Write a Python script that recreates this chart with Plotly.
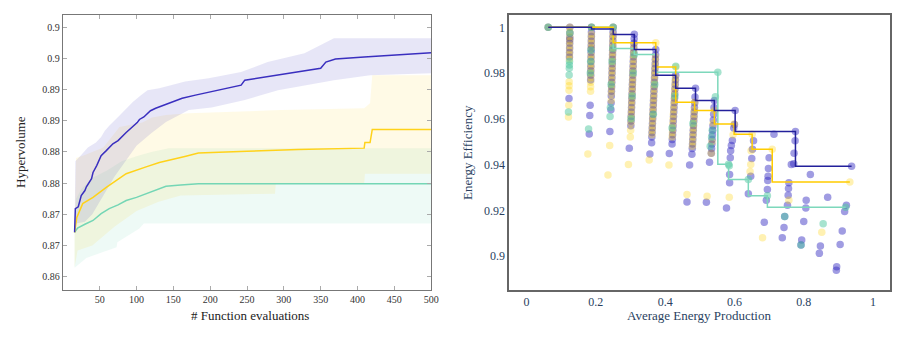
import plotly.graph_objects as go

# ---- left panel: hypervolume vs number of function evaluations ----
blue_x = [16, 17, 21, 25, 30, 32, 39, 41, 46, 52, 59, 68, 75, 86, 101, 104, 110, 119, 126, 144,
          162, 180, 198, 242, 247, 274, 328, 350, 357, 370, 409, 453, 500]
blue_y = [0.8721, 0.8759, 0.8762, 0.878, 0.8788, 0.8794, 0.8807, 0.8817, 0.8828, 0.8844, 0.8852,
          0.8863, 0.8868, 0.8881, 0.8897, 0.8902, 0.8906, 0.8916, 0.892, 0.8928, 0.8936, 0.8941,
          0.8946, 0.8957, 0.8965, 0.897, 0.8981, 0.8984, 0.8994, 0.8999, 0.9002, 0.9005, 0.9009]
blue_up_x = [16, 17, 25, 34, 45, 52, 57, 63, 75, 84, 95, 106, 115, 131, 148, 166, 198, 242, 278, 328, 368, 500]
blue_up_y = [0.8721, 0.8835, 0.8845, 0.8857, 0.8865, 0.8874, 0.8884, 0.8892, 0.8906, 0.8917, 0.893,
             0.8941, 0.8949, 0.8952, 0.8957, 0.8963, 0.8968, 0.8978, 0.8994, 0.9008, 0.9032, 0.9032]
blue_lo_x = [16, 18, 30, 40, 50, 60, 70, 85, 100, 120, 140, 160, 171, 202, 247, 292, 328, 368, 417, 500]
blue_lo_y = [0.8721, 0.8735, 0.8738, 0.875, 0.877, 0.879, 0.881, 0.8835, 0.886, 0.888, 0.8898,
             0.891, 0.8917, 0.8921, 0.8933, 0.8949, 0.8957, 0.8965, 0.8973, 0.8976]

yel_x = [16, 19, 27, 41, 59, 86, 113, 131, 167, 184, 250, 319, 409, 410, 417, 420, 500]
yel_y = [0.8721, 0.8745, 0.8767, 0.8777, 0.8793, 0.8815, 0.8826, 0.8833, 0.8843, 0.8848, 0.8851,
         0.8854, 0.8856, 0.8865, 0.8865, 0.8886, 0.8886]
yel_up_x = [16, 18, 30, 55, 77, 108, 121, 140, 171, 296, 409, 417, 420, 500]
yel_up_y = [0.8721, 0.884, 0.8845, 0.8857, 0.889, 0.8897, 0.8905, 0.8909, 0.8912, 0.8917, 0.892,
            0.8928, 0.8973, 0.8973]
yel_lo_x = [16, 20, 40, 70, 100, 130, 160, 288, 289, 409, 410, 500]
yel_lo_y = [0.8665, 0.8692, 0.87, 0.873, 0.8755, 0.877, 0.878, 0.8783, 0.8799, 0.8799, 0.8815, 0.8815]

teal_x = [16, 20, 30, 41, 52, 63, 75, 86, 100, 113, 125, 140, 160, 184, 500]
teal_y = [0.8721, 0.8728, 0.8734, 0.874, 0.8751, 0.8759, 0.8765, 0.8772, 0.8777, 0.8783, 0.8789,
          0.8795, 0.8797, 0.8799, 0.8799]
teal_up_x = [16, 18, 25, 40, 60, 80, 100, 120, 144, 500]
teal_up_y = [0.8721, 0.8775, 0.879, 0.8808, 0.882, 0.8835, 0.8843, 0.885, 0.8856, 0.8856]
teal_lo_x = [16, 32, 50, 73, 74, 86, 104, 110, 500]
teal_lo_y = [0.8664, 0.868, 0.8687, 0.8697, 0.8705, 0.8713, 0.8727, 0.8735, 0.8735]

hv_tickvals = [0.865, 0.87, 0.875, 0.88, 0.885, 0.89, 0.895, 0.9, 0.905]
hv_ticktext = ["0.86", "0.87", "0.87", "0.88", "0.88", "0.89", "0.89", "0.9", "0.9"]
fe_tickvals = [50, 100, 150, 200, 250, 300, 350, 400, 450, 500]

# ---- right panel: evaluated designs (x = energy production, y = efficiency) ----
blue_pts = [
    (0.0625, 1.0),
    (0.125, 1.0), (0.125, 0.9975), (0.1248, 0.9955), (0.1247, 0.9946), (0.1245, 0.993), (0.1243, 0.991),
    (0.1241, 0.989), (0.1239, 0.987), (0.1225, 0.9689),
    (0.1875, 1.0), (0.1873, 0.998), (0.1871, 0.996), (0.1869, 0.994), (0.1867, 0.992), (0.1865, 0.9905),
    (0.1863, 0.989), (0.1861, 0.987), (0.1859, 0.985), (0.1856, 0.983), (0.1854, 0.981), (0.1852, 0.979),
    (0.185, 0.977), (0.1835, 0.9659), (0.1825, 0.9615), (0.181, 0.9534),
    (0.25, 1.0), (0.2497, 0.998), (0.2494, 0.996), (0.2491, 0.994), (0.2488, 0.992), (0.2485, 0.99),
    (0.2482, 0.988), (0.2478, 0.986), (0.2475, 0.984), (0.2471, 0.982), (0.2467, 0.98), (0.2463, 0.978),
    (0.2459, 0.976), (0.2455, 0.974), (0.2451, 0.972), (0.2447, 0.97), (0.2441, 0.967), (0.2435, 0.964),
    (0.2405, 0.9545),
    (0.311, 0.997), (0.3105, 0.995), (0.31, 0.993), (0.3095, 0.991), (0.309, 0.989), (0.3085, 0.987),
    (0.308, 0.985), (0.3075, 0.983), (0.307, 0.981), (0.3065, 0.979), (0.306, 0.977), (0.3055, 0.975),
    (0.305, 0.973), (0.3045, 0.971), (0.304, 0.969), (0.3035, 0.967), (0.303, 0.965), (0.3025, 0.963),
    (0.302, 0.961), (0.3015, 0.959), (0.301, 0.957), (0.2965, 0.9471),
    (0.373, 0.9903), (0.3724, 0.988), (0.3718, 0.986), (0.3712, 0.984), (0.3706, 0.982), (0.37, 0.98),
    (0.3694, 0.978), (0.3688, 0.976), (0.3682, 0.974), (0.3676, 0.972), (0.367, 0.97), (0.3664, 0.968),
    (0.3658, 0.966), (0.3652, 0.964), (0.3646, 0.962), (0.364, 0.96), (0.3634, 0.958), (0.3628, 0.956),
    (0.3622, 0.954), (0.3616, 0.952), (0.361, 0.9495), (0.356, 0.9446),
    (0.4305, 0.979), (0.4298, 0.977), (0.4291, 0.975), (0.4284, 0.973), (0.4277, 0.971), (0.427, 0.969),
    (0.4263, 0.967), (0.4256, 0.965), (0.4249, 0.963), (0.4242, 0.961), (0.4235, 0.959), (0.4228, 0.957),
    (0.4221, 0.955), (0.4214, 0.953), (0.4207, 0.951), (0.42, 0.949), (0.412, 0.9448),
    (0.4876, 0.9734), (0.4862, 0.9695), (0.4853, 0.967), (0.4846, 0.965), (0.4839, 0.963), (0.4832, 0.961),
    (0.4825, 0.959), (0.4818, 0.957), (0.4811, 0.955), (0.4804, 0.953), (0.4797, 0.951), (0.479, 0.949),
    (0.4783, 0.947), (0.4772, 0.9445), (0.4706, 0.9398), (0.463, 0.9236),
    (0.542, 0.968), (0.541, 0.965), (0.54, 0.962), (0.539, 0.9595), (0.538, 0.957), (0.5372, 0.955),
    (0.5364, 0.953), (0.5356, 0.951), (0.5348, 0.949), (0.534, 0.947), (0.5332, 0.945), (0.528, 0.941),
    (0.519, 0.9235),
    (0.602, 0.9636), (0.6, 0.9575), (0.598, 0.956), (0.594, 0.9505), (0.591, 0.9483), (0.589, 0.946),
    (0.588, 0.943), (0.586, 0.9357), (0.586, 0.932), (0.577, 0.921),
    (0.655, 0.9504), (0.652, 0.9467), (0.65, 0.9427), (0.647, 0.9349), (0.64, 0.9272),
    (0.7, 0.943), (0.698, 0.9383), (0.697, 0.9349), (0.696, 0.933), (0.695, 0.9291), (0.692, 0.9244),
    (0.686, 0.9148), (0.714, 0.9533),
    (0.776, 0.9545), (0.775, 0.9504), (0.772, 0.9449), (0.771, 0.9404), (0.764, 0.94), (0.757, 0.932),
    (0.756, 0.9295), (0.755, 0.9266), (0.753, 0.9222), (0.745, 0.9173), (0.743, 0.9125), (0.738, 0.908),
    (0.819, 0.9357), (0.807, 0.9244), (0.806, 0.921), (0.8, 0.9151), (0.794, 0.907), (0.792, 0.9048),
    (0.869, 0.9257), (0.848, 0.9044), (0.845, 0.9012),
    (0.938, 0.9393), (0.923, 0.9222), (0.918, 0.9195), (0.911, 0.911), (0.905, 0.9051), (0.895, 0.8953),
    (0.894, 0.8938),
]
yel_pts = [
    (0.0625, 1.0),
    (0.125, 1.0), (0.1249, 0.998), (0.1248, 0.996), (0.1246, 0.994), (0.1244, 0.992), (0.1242, 0.99),
    (0.124, 0.988), (0.1238, 0.986), (0.123, 0.9762), (0.1228, 0.9745), (0.1226, 0.9725), (0.122, 0.9659),
    (0.121, 0.9608),
    (0.1875, 1.0), (0.1872, 0.997), (0.187, 0.995), (0.1868, 0.993), (0.1866, 0.991), (0.1863, 0.988),
    (0.1861, 0.986), (0.1859, 0.984), (0.1857, 0.982), (0.1855, 0.98), (0.1853, 0.978), (0.1851, 0.976),
    (0.1849, 0.974), (0.1847, 0.972), (0.177, 0.9446),
    (0.25, 1.0), (0.2496, 0.997), (0.2493, 0.995), (0.249, 0.993), (0.2487, 0.991), (0.2484, 0.989),
    (0.248, 0.987), (0.2476, 0.985), (0.2473, 0.983), (0.2469, 0.981), (0.2465, 0.979), (0.2461, 0.977),
    (0.2457, 0.975), (0.2453, 0.973), (0.2449, 0.971), (0.2444, 0.968), (0.24, 0.9483), (0.235, 0.9354),
    (0.3098, 0.992), (0.3093, 0.99), (0.3088, 0.988), (0.3083, 0.986), (0.3078, 0.984), (0.3073, 0.982),
    (0.3068, 0.98), (0.3063, 0.978), (0.3058, 0.976), (0.3053, 0.974), (0.3048, 0.972), (0.3043, 0.97),
    (0.3038, 0.968), (0.3033, 0.966), (0.3028, 0.964), (0.3023, 0.962), (0.3018, 0.96), (0.3013, 0.958),
    (0.3005, 0.955), (0.2995, 0.952), (0.294, 0.94),
    (0.373, 0.9932), (0.3721, 0.987), (0.3715, 0.985), (0.3709, 0.983), (0.3703, 0.981), (0.3697, 0.979),
    (0.3691, 0.977), (0.3685, 0.975), (0.3679, 0.973), (0.3673, 0.971), (0.3667, 0.969), (0.3661, 0.967),
    (0.3655, 0.965), (0.3649, 0.963), (0.3643, 0.961), (0.3637, 0.959), (0.3631, 0.957), (0.3625, 0.955),
    (0.3619, 0.953), (0.354, 0.942),
    (0.4305, 0.9826), (0.4294, 0.978), (0.4287, 0.976), (0.428, 0.974), (0.4273, 0.972), (0.4266, 0.97),
    (0.4259, 0.968), (0.4252, 0.966), (0.4245, 0.964), (0.4238, 0.962), (0.4231, 0.96), (0.4224, 0.958),
    (0.4217, 0.956), (0.421, 0.954), (0.4203, 0.952), (0.411, 0.9398),
    (0.485, 0.9672), (0.4843, 0.964), (0.4836, 0.962), (0.4829, 0.96), (0.4822, 0.958), (0.4815, 0.956),
    (0.4808, 0.954), (0.4801, 0.952), (0.4794, 0.95), (0.4787, 0.948), (0.463, 0.9269),
    (0.542, 0.9636), (0.5385, 0.958), (0.5352, 0.95), (0.533, 0.945), (0.521, 0.9261),
    (0.599, 0.9577), (0.596, 0.953), (0.585, 0.9257),
    (0.651, 0.9533), (0.648, 0.946), (0.647, 0.94), (0.645, 0.937),
    (0.709, 0.9467), (0.681, 0.908), (0.757, 0.9244), (0.852, 0.9104), (0.933, 0.9324),
]
teal_pts = [
    (0.0625, 1.0),
    (0.125, 0.9975), (0.124, 0.985), (0.1237, 0.9835), (0.1235, 0.9821), (0.123, 0.9791), (0.121, 0.963),
    (0.1875, 1.0), (0.186, 0.99), (0.185, 0.985), (0.184, 0.98), (0.179, 0.9556),
    (0.25, 1.0), (0.249, 0.9907), (0.247, 0.985), (0.244, 0.975), (0.242, 0.965), (0.241, 0.961),
    (0.311, 0.9881), (0.308, 0.98), (0.305, 0.97), (0.302, 0.96),
    (0.37, 0.975), (0.366, 0.962), (0.4305, 0.983), (0.428, 0.97), (0.42, 0.956), (0.48, 0.958),
    (0.552, 0.9804), (0.545, 0.9696), (0.536, 0.955), (0.534, 0.952), (0.53, 0.948),
    (0.583, 0.9401), (0.585, 0.9395), (0.64, 0.9335), (0.695, 0.9264), (0.745, 0.9173), (0.792, 0.9048),
    (0.856, 0.9141), (0.921, 0.9213),
]

# pareto fronts (drawn as steps)
fb_x = [0.0625, 0.1875, 0.25, 0.311, 0.373, 0.4305, 0.4876, 0.542, 0.602, 0.776, 0.938]
fb_y = [1.0, 1.0, 0.9993, 0.9969, 0.9903, 0.979, 0.9734, 0.968, 0.9636, 0.9545, 0.9393]
fy_x = [0.0625, 0.25, 0.373, 0.4305, 0.485, 0.542, 0.599, 0.651, 0.709, 0.933]
fy_y = [1.0, 1.0, 0.9932, 0.9826, 0.9672, 0.9636, 0.9577, 0.9533, 0.9467, 0.9324]
ft_x = [0.0625, 0.25, 0.311, 0.373, 0.552, 0.583, 0.64, 0.695, 0.921]
ft_y = [1.0, 1.0, 0.9907, 0.9881, 0.9804, 0.9401, 0.9335, 0.9264, 0.9213]

ee_tickvals = [0.9, 0.92, 0.94, 0.96, 0.98, 1.0]
ee_ticktext = ["0.9", "0.92", "0.94", "0.96", "0.98", "1"]
ep_tickvals = [0, 0.2, 0.4, 0.6, 0.8, 1.0]
ep_ticktext = ["0", "0.2", "0.4", "0.6", "0.8", "1"]

BLUE = "#3a2fbf"
YEL = "#ffd21a"
TEAL = "#74d6b5"
SERIF = "Liberation Serif, DejaVu Serif, serif"
# the page body keeps its default 8px margin; size the figure so it fits inside the window
OFF = 8
W, H = 917 - 2 * OFF, 337 - 2 * OFF


def px_x(px):
    return (px - OFF) / W


def px_y(py):
    return 1 - (py - OFF) / H


fig = go.Figure()


def band(ux, uy, lx, ly, color):
    fig.add_trace(go.Scatter(x=ux + lx[::-1], y=uy + ly[::-1], fill="toself", fillcolor=color,
                             mode="lines", line=dict(width=0), hoverinfo="skip",
                             showlegend=False, xaxis="x", yaxis="y"))


band(teal_up_x, teal_up_y, teal_lo_x, teal_lo_y, "rgba(116,214,181,0.12)")
band(yel_up_x, yel_up_y, yel_lo_x, yel_lo_y, "rgba(255,210,26,0.11)")
band(blue_up_x, blue_up_y, blue_lo_x, blue_lo_y, "rgba(58,47,191,0.12)")

for xs, ys, c in [(teal_x, teal_y, TEAL), (yel_x, yel_y, YEL), (blue_x, blue_y, BLUE)]:
    fig.add_trace(go.Scatter(x=xs, y=ys, mode="lines", line=dict(color=c, width=1.5),
                             showlegend=False, xaxis="x", yaxis="y"))

# right panel scatter clouds
for pts, c in [(blue_pts, "rgba(45,35,190,0.45)"),
               (yel_pts, "rgba(255,210,0,0.3)"),
               (teal_pts, "rgba(80,200,160,0.5)")]:
    fig.add_trace(go.Scatter(x=[p[0] for p in pts], y=[p[1] for p in pts], mode="markers",
                             marker=dict(color=c, size=7.5, line=dict(width=0)),
                             showlegend=False, xaxis="x2", yaxis="y2"))

for xs, ys, c in [(ft_x, ft_y, "#7dd8bb"), (fy_x, fy_y, "#ffcc00"), (fb_x, fb_y, "#23209b")]:
    fig.add_trace(go.Scatter(x=xs, y=ys, mode="lines", line=dict(color=c, width=1.5, shape="vh"),
                             showlegend=False, xaxis="x2", yaxis="y2"))

font_l = dict(family=SERIF, size=10, color="#333333")
font_r = dict(family=SERIF, size=12, color="#2a3f5f")
ydom = [px_y(289.7), px_y(15.3)]

fig.update_layout(
    width=W, height=H, margin=dict(l=0, r=0, t=0, b=0),
    paper_bgcolor="white", plot_bgcolor="white",
    xaxis=dict(domain=[px_x(63.3), px_x(435)], range=[0, 500], tickvals=fe_tickvals,
               ticks="inside", ticklen=4, tickcolor="#aaaaaa", mirror="allticks",
               showline=True, linecolor="#777777", linewidth=1, showgrid=False, zeroline=False,
               tickfont=font_l),
    yaxis=dict(domain=ydom, range=[0.8629, 0.9069], tickvals=hv_tickvals, ticktext=hv_ticktext,
               ticks="inside", ticklen=4, tickcolor="#aaaaaa", mirror="allticks",
               showline=True, linecolor="#777777", linewidth=1, showgrid=False, zeroline=False,
               tickfont=font_l),
    xaxis2=dict(domain=[px_x(513.7), px_x(898.3)], range=[-0.05, 1.05], tickvals=ep_tickvals,
                ticktext=ep_ticktext, anchor="y2", showline=True, mirror=True,
                linecolor="#666666", linewidth=1.5, showgrid=False, zeroline=False, tickfont=font_r),
    yaxis2=dict(domain=ydom, range=[0.8853, 1.00525], tickvals=ee_tickvals, ticktext=ee_ticktext,
                anchor="x2", showline=True, mirror=True, linecolor="#666666", linewidth=1.5,
                showgrid=False, zeroline=False, tickfont=font_r),
)

ann = [
    ("Hypervolume", 20, 152, -90, "#222222"),
    ("# Function evaluations", 252, 315, 0, "#222222"),
    ("Energy Efficiency", 471, 152, -90, "#2a3f5f"),
    ("Average Energy Production", 705, 315, 0, "#2a3f5f"),
]
for text, px, py, ang, col in ann:
    fig.add_annotation(text=text, xref="paper", yref="paper", x=px_x(px), y=px_y(py),
                       showarrow=False, textangle=ang, xanchor="center", yanchor="middle",
                       font=dict(family=SERIF, size=13, color=col))

fig.write_html("out.html")
